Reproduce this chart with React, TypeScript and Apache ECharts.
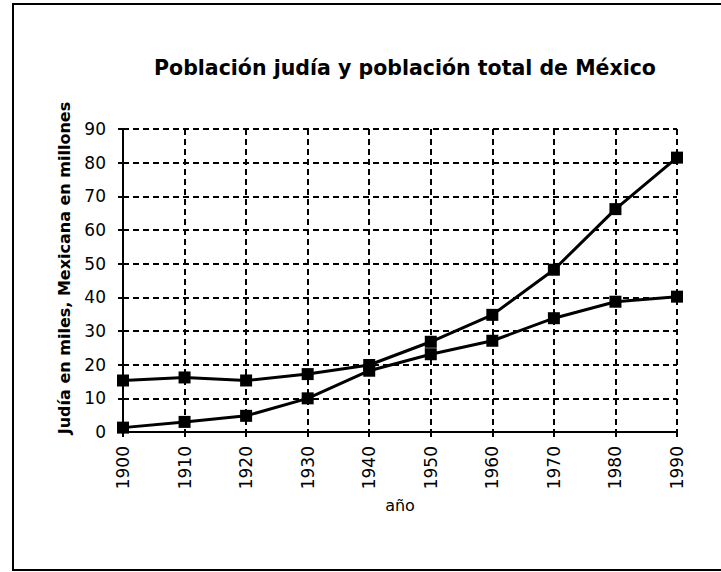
import React, { useEffect, useRef } from "react";
import * as echarts from "echarts";

const years = ["1900", "1910", "1920", "1930", "1940", "1950", "1960", "1970", "1980", "1990"];
const mexicana = [15.3, 16.2, 15.3, 17.2, 19.9, 26.8, 34.8, 48.2, 66.2, 81.5];
const judia = [1.3, 3.0, 4.8, 10.0, 18.2, 23.1, 27.1, 33.8, 38.7, 40.2];

const titleText = "Población judía y población total de México";
const yName = "Judía en miles, Mexicana en millones";
const xName = "año";

export default function App() {
  const ref = useRef<HTMLDivElement>(null);
  useEffect(() => {
    if (!ref.current) return;
    const chart = echarts.init(ref.current, null, { renderer: "svg" });
    const font = "DejaVu Sans";
    const lineSeries = (name: string, data: number[]) => ({
      name,
      type: "line",
      data,
      symbol: "rect",
      symbolSize: 12,
      lineStyle: { color: "#000", width: 3 },
      itemStyle: { color: "#000" },
      z: 5,
    });
    chart.setOption({
      animation: false,
      backgroundColor: "#fff",
      title: {
        text: titleText,
        left: 400,
        textAlign: "center",
        top: 52,
        textStyle: { fontFamily: font, fontWeight: "bold", fontSize: 20.5, color: "#000" },
      },
      grid: { left: 123, right: 44, top: 129, bottom: 140, containLabel: false },
      xAxis: {
        type: "category",
        data: years,
        boundaryGap: false,
        name: xName,
        nameLocation: "middle",
        nameGap: 61,
        nameTextStyle: { fontFamily: font, fontSize: 16, color: "#000" },
        axisLine: { show: true, lineStyle: { color: "#000", width: 2 } },
        axisTick: { show: true, length: 5, alignWithLabel: true, lineStyle: { color: "#000", width: 2 } },
        axisLabel: { rotate: 90, margin: 14, fontFamily: font, fontSize: 17, color: "#000" },
        splitLine: { show: true, lineStyle: { color: "#000", width: 2, type: [6, 4] } },
      },
      yAxis: {
        type: "value",
        min: 0,
        max: 90,
        interval: 10,
        axisLine: { show: true, lineStyle: { color: "#000", width: 2 } },
        axisTick: { show: true, length: 5, lineStyle: { color: "#000", width: 2 } },
        axisLabel: { margin: 17, fontFamily: font, fontSize: 17, color: "#000" },
        splitLine: { show: true, lineStyle: { color: "#000", width: 2, type: [6, 4] } },
      },
      graphic: [
        {
          type: "rect",
          shape: { x: 13, y: 4, width: 720, height: 566 },
          style: { fill: "none", stroke: "#000", lineWidth: 2 },
          silent: true,
        },
        {
          type: "text",
          x: 64,
          y: 268,
          rotation: Math.PI / 2,
          style: {
            text: yName,
            fontFamily: font,
            fontWeight: "bold",
            fontSize: 16,
            fill: "#000",
            align: "center",
            verticalAlign: "middle",
          },
        },
      ],
      series: [lineSeries("Mexicana", mexicana), lineSeries("Judía", judia)],
    });
    return () => chart.dispose();
  }, []);
  return <div ref={ref} style={{ position: "fixed", left: 0, top: 0, width: 721, height: 572 }} />;
}
